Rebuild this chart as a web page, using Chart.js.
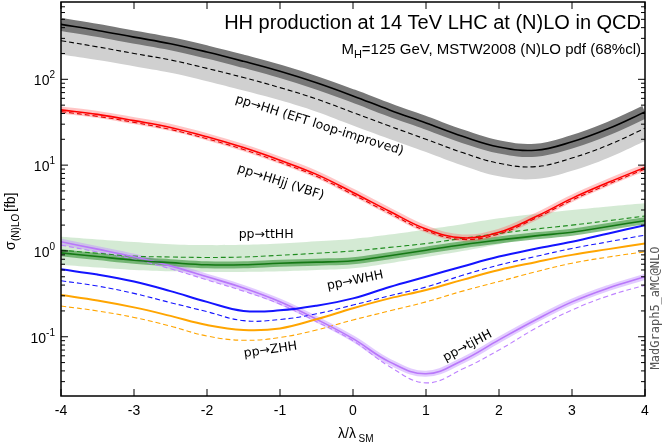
<!DOCTYPE html>
<html>
<head>
<meta charset="utf-8">
<script src="https://cdn.jsdelivr.net/npm/chart.js@4"></script>
<style>
  body { margin: 0; background: #fff; }
  #wrap { width: 664px; height: 443px; }
</style>
</head>
<body>
<div id="wrap"><canvas id="myChart" width="664" height="443"></canvas></div>
<script>
// lambda / lambda_SM
let lam = [-4, -3.5, -3, -2.5, -2, -1.5, -1, -0.5, 0, 0.5, 1, 1.5, 2, 2.5, 3, 3.5, 4];

// pp -> HH (EFT loop-improved)
let hhNLO = [437, 371, 310, 260, 208, 162, 124, 91, 64, 44, 31, 21.7, 16.3, 14.9, 18.7, 26.7, 41.7];
let hhLO = [282, 239, 200, 168, 134, 105, 80, 59, 41, 28.5, 20, 14, 10.5, 9.6, 12.1, 17.2, 26.9];
let hhLOup = [398, 337, 282, 237, 189, 148, 113, 83, 58, 40, 28, 19.7, 14.8, 13.5, 17, 24.3, 38];
let hhLOdown = [195, 168, 142, 119, 95, 74, 57, 42, 29, 20.2, 14.2, 9.9, 7.4, 6.9, 8.6, 12.2, 19.1];

// pp -> HHjj (VBF)
let vbfNLO = [44, 39, 33, 27.5, 21.4, 16, 11.4, 7.8, 4.8, 2.9, 1.8, 1.42, 1.65, 2.5, 4.1, 6.3, 9.4];
let vbfLO = [42, 37, 31.5, 26, 20.3, 15.2, 10.8, 7.4, 4.55, 2.75, 1.72, 1.36, 1.58, 2.4, 3.9, 6, 9];

// pp -> ttHH
let tthhNLO = [0.95, 0.86, 0.78, 0.73, 0.69, 0.69, 0.72, 0.74, 0.77, 0.88, 1.02, 1.18, 1.34, 1.5, 1.65, 1.93, 2.25];
let tthhLO = [1.02, 0.94, 0.87, 0.85, 0.84, 0.85, 0.89, 0.94, 1.0, 1.1, 1.22, 1.4, 1.6, 1.8, 2.0, 2.25, 2.55];
let tthhLOup = [1.46, 1.36, 1.27, 1.2, 1.17, 1.18, 1.22, 1.3, 1.38, 1.55, 1.78, 2.05, 2.4, 2.7, 3.0, 3.3, 3.6];
let tthhLOdown = [0.69, 0.64, 0.6, 0.58, 0.57, 0.57, 0.58, 0.6, 0.63, 0.72, 0.85, 1.0, 1.2, 1.45, 1.7, 1.95, 2.2];

// pp -> WHH
let whhNLO = [0.61, 0.53, 0.44, 0.34, 0.255, 0.2, 0.203, 0.23, 0.28, 0.38, 0.5, 0.66, 0.86, 1.06, 1.28, 1.6, 2.0];
let whhLO = [0.45, 0.39, 0.32, 0.25, 0.196, 0.154, 0.159, 0.185, 0.234, 0.3, 0.38, 0.52, 0.685, 0.86, 1.07, 1.28, 1.53];

// pp -> ZHH
let zhhNLO = [0.306, 0.265, 0.22, 0.175, 0.137, 0.12, 0.125, 0.16, 0.215, 0.28, 0.35, 0.46, 0.6, 0.74, 0.9, 1.05, 1.22];
let zhhLO = [0.228, 0.2, 0.168, 0.133, 0.102, 0.091, 0.098, 0.12, 0.157, 0.2, 0.255, 0.34, 0.44, 0.57, 0.72, 0.85, 0.98];

// pp -> tjHH
let tjhhNLO = [1.28, 1.05, 0.855, 0.67, 0.5, 0.37, 0.256, 0.16, 0.095, 0.051, 0.037, 0.053, 0.092, 0.157, 0.255, 0.37, 0.5];
let tjhhLO = [1.17, 0.97, 0.8, 0.62, 0.46, 0.34, 0.24, 0.15, 0.09, 0.045, 0.029, 0.042, 0.07, 0.125, 0.205, 0.3, 0.4];

let xTicks = [-4, -3, -2, -1, 0, 1, 2, 3, 4];
let yDecades = [-1, 0, 1, 2];

// labels: [text, lambda, sigma, angle deg]
let curveLabels = [
  ['pp\u2192HH (EFT loop-improved)', -0.46, 29, 17.5],
  ['pp\u2192HHjj (VBF)', -0.99, 6.3, 18],
  ['pp\u2192ttHH', -1.19, 1.53, 0],
  ['pp\u2192WHH', 0.03, 0.45, -11.5],
  ['pp\u2192ZHH', -1.13, 0.07, -8],
  ['pp\u2192tjHH', 1.57, 0.078, -28]
];

function pts(arr) {
  return arr.map((v, i) => ({ x: lam[i], y: v }));
}

function line(data, color, opts) {
  return Object.assign({
    data: pts(data),
    borderColor: color,
    borderWidth: 1.6,
    pointRadius: 0,
    fill: false,
    tension: 0.4
  }, opts || {});
}

const FONT = '"Liberation Sans", Arial, sans-serif';
const LFONT = '"DejaVu Sans", sans-serif';

let datasets = [
  // light bands
  line(hhLOup, 'transparent', { borderWidth: 0, fill: '+1', backgroundColor: 'rgb(208,208,208)', order: 20 }),
  line(hhLOdown, 'transparent', { borderWidth: 0, order: 20 }),
  line(tthhLOup, 'transparent', { borderWidth: 0, fill: '+1', backgroundColor: 'rgba(60,160,60,0.22)', order: 19 }),
  line(tthhLOdown, 'transparent', { borderWidth: 0, order: 19 }),
  // narrow bands as wide translucent strokes
  line(hhNLO, 'rgb(120,120,120)', { borderWidth: 13, order: 15 }),
  line(vbfNLO, 'rgba(255,90,90,0.35)', { borderWidth: 7, order: 15 }),
  line(tthhNLO, 'rgba(40,140,40,0.55)', { borderWidth: 7, order: 15 }),
  line(tjhhNLO, 'rgba(190,140,255,0.45)', { borderWidth: 6, order: 15 }),
  // LO dashed
  line(hhLO, 'rgb(0,0,0)', { borderWidth: 1.1, borderDash: [5, 3], order: 5 }),
  line(vbfLO, 'rgb(230,0,0)', { borderWidth: 1.1, borderDash: [5, 3], order: 5 }),
  line(tthhLO, 'rgb(30,140,30)', { borderWidth: 1.1, borderDash: [5, 3], order: 5 }),
  line(whhLO, 'rgb(20,20,255)', { borderWidth: 1.1, borderDash: [5, 3], order: 5 }),
  line(zhhLO, 'rgb(255,165,0)', { borderWidth: 1.1, borderDash: [5, 3], order: 5 }),
  line(tjhhLO, 'rgb(190,130,255)', { borderWidth: 1.1, borderDash: [5, 3], order: 5 }),
  // NLO solid
  line(hhNLO, 'rgb(0,0,0)', { order: 1 }),
  line(vbfNLO, 'rgb(255,0,0)', { order: 1 }),
  line(tthhNLO, 'rgb(20,120,20)', { order: 1 }),
  line(whhNLO, 'rgb(20,20,255)', { borderWidth: 2, order: 1 }),
  line(zhhNLO, 'rgb(255,165,0)', { borderWidth: 2, order: 1 }),
  line(tjhhNLO, 'rgb(185,120,250)', { order: 1 })
];

function drawSup(ctx, base, sup, x, y, align) {
  ctx.font = '14px ' + FONT;
  let wb = ctx.measureText(base).width;
  ctx.font = '10px ' + FONT;
  let ws = ctx.measureText(sup).width;
  let x0 = align === 'right' ? x - wb - ws : x;
  ctx.textAlign = 'left';
  ctx.textBaseline = 'middle';
  ctx.font = '14px ' + FONT;
  ctx.fillText(base, x0, y + 2);
  ctx.font = '10px ' + FONT;
  ctx.fillText(sup, x0 + wb, y - 4);
}

let decor = {
  id: 'decor',
  afterDraw: (chart) => {
    let ctx = chart.ctx;
    let a = chart.chartArea;
    let xs = chart.scales.x, ys = chart.scales.y;
    ctx.save();
    ctx.strokeStyle = '#000';
    ctx.fillStyle = '#000';
    ctx.lineWidth = 1.5;
    ctx.strokeRect(a.left, a.top, a.right - a.left, a.bottom - a.top);
    ctx.lineWidth = 1;
    // x ticks
    ctx.font = '14px ' + FONT;
    ctx.textAlign = 'center';
    ctx.textBaseline = 'top';
    xTicks.forEach(t => {
      let px = xs.getPixelForValue(t);
      ctx.beginPath();
      ctx.moveTo(px, a.bottom); ctx.lineTo(px, a.bottom - 7);
      ctx.moveTo(px, a.top); ctx.lineTo(px, a.top + 7);
      ctx.stroke();
      ctx.fillText(String(t), px, a.bottom + 8);
    });
    // y ticks
    for (let d = -2; d <= 2; d++) {
      for (let k = 1; k <= 9; k++) {
        let v = k * Math.pow(10, d);
        if (v < ys.min || v > ys.max) continue;
        let py = ys.getPixelForValue(v);
        let len = k === 1 ? 7 : 4;
        ctx.beginPath();
        ctx.moveTo(a.left, py); ctx.lineTo(a.left + len, py);
        ctx.moveTo(a.right, py); ctx.lineTo(a.right - len, py);
        ctx.stroke();
      }
    }
    yDecades.forEach(d => {
      let py = ys.getPixelForValue(Math.pow(10, d));
      drawSup(ctx, '10', String(d), a.left - 6, py, 'right');
    });
    // axis titles
    ctx.textAlign = 'center';
    ctx.textBaseline = 'alphabetic';
    ctx.font = '14px ' + FONT;
    let tx = xs.getPixelForValue(0);
    ctx.fillText('\u03bb/\u03bb', tx - 6, 438);
    ctx.font = '10px ' + FONT;
    ctx.fillText('SM', tx + 13, 442);
    ctx.save();
    ctx.translate(15, 210);
    ctx.rotate(-Math.PI / 2);
    ctx.textAlign = 'left';
    ctx.font = '14px ' + FONT;
    ctx.fillText('\u03c3', -40, 0);
    ctx.font = '10px ' + FONT;
    ctx.fillText('(N)LO', -31, 4);
    ctx.font = '14px ' + FONT;
    ctx.fillText('[fb]', -2, 0);
    ctx.restore();
    // title
    ctx.textAlign = 'right';
    ctx.font = '20px ' + FONT;
    ctx.fillText('HH production at 14 TeV LHC at (N)LO in QCD', a.right - 4, 29);
    ctx.font = '15px ' + FONT;
    let sub = '=125 GeV, MSTW2008 (N)LO pdf (68%cl)';
    let w = ctx.measureText(sub).width;
    ctx.fillText(sub, a.right - 4, 54);
    ctx.font = '11px ' + FONT;
    ctx.fillText('H', a.right - 4 - w, 58);
    let wH = ctx.measureText('H').width;
    ctx.font = '15px ' + FONT;
    ctx.fillText('M', a.right - 4 - w - wH, 54);
    // side credit
    ctx.save();
    ctx.translate(659, 308);
    ctx.rotate(-Math.PI / 2);
    ctx.textAlign = 'center';
    ctx.fillStyle = '#555';
    ctx.font = '12px "DejaVu Sans Mono", "Liberation Mono", monospace';
    ctx.fillText('MadGraph5_aMC@NLO', 0, 0);
    ctx.restore();
    // curve labels
    ctx.fillStyle = '#000';
    ctx.font = '12.5px ' + LFONT;
    curveLabels.forEach(l => {
      ctx.save();
      ctx.translate(xs.getPixelForValue(l[1]), ys.getPixelForValue(l[2]));
      ctx.rotate(l[3] * Math.PI / 180);
      ctx.textAlign = 'center';
      ctx.textBaseline = 'middle';
      ctx.fillText(l[0], 0, 0);
      ctx.restore();
    });
    ctx.restore();
  }
};

var ctx = document.getElementById('myChart').getContext('2d');
let myChart = new Chart(ctx, {
  type: 'line',
  data: { datasets: datasets },
  options: {
    responsive: false,
    animation: false,
    layout: { padding: { left: 61, right: 19, top: 2, bottom: 47 } },
    plugins: { legend: { display: false }, tooltip: { enabled: false } },
    scales: {
      x: { type: 'linear', min: -4, max: 4, display: false },
      y: { type: 'logarithmic', min: 0.0204, max: 796, display: false }
    }
  },
  plugins: [decor]
});
</script>
</body>
</html>
